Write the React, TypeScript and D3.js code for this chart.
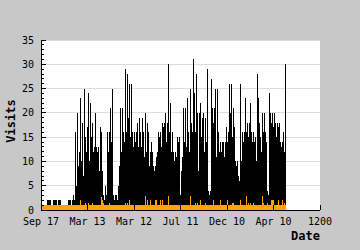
import React from "react";
import * as d3 from "d3";

// Visits per bar (each bar = one bucket of days, from the first bucket onwards)
const visits: number[] = [
  0, 0, 0, 0, 0, 0, 2, 2, 2, 2,
  0, 0, 2, 2, 2, 2, 0, 2, 2, 2,
  0, 0, 0, 0, 0, 0, 1, 2, 2, 2,
  1, 2, 3, 2, 16, 5, 20, 9, 12,
  23, 10, 18, 7, 25, 15, 12, 17, 24, 10,
  22, 15, 18, 12, 13, 20, 13, 12, 13, 8,
  17, 16, 8, 3, 2, 5, 3, 16, 12, 16,
  21, 14, 25, 3, 2, 3, 3, 2, 5, 9,
  21, 12, 21, 16, 14, 29, 16, 28, 19, 26,
  15, 26, 16, 13, 16, 14, 16, 18, 13, 19,
  16, 13, 19, 16, 11, 20, 12, 18, 16, 9,
  12, 14, 12, 9, 8, 9, 11, 12, 16, 15,
  16, 13, 18, 17, 18, 20, 14, 18, 30, 16,
  22, 12, 16, 12, 10, 12, 11, 15, 14, 15,
  3, 8, 11, 21, 14, 21, 13, 23, 16, 12,
  25, 18, 16, 31, 24, 16, 28, 20, 8, 20,
  22, 15, 19, 20, 12, 19, 14, 29, 4, 3,
  4, 27, 21, 18, 21, 25, 11, 25, 16, 12,
  14, 12, 14, 14, 11, 14, 17, 14, 16, 26,
  20, 26, 15, 21, 17, 10, 9, 10, 7, 6,
  26, 10, 16, 14, 16, 23, 16, 18, 15, 18,
  22, 16, 14, 16, 14, 15, 10, 28, 23, 18,
  15, 12, 20, 16, 20, 16, 14, 4, 3, 24,
  20, 18, 20, 17, 20, 18, 15, 18, 17, 18,
  14, 13, 14, 16, 12, 30,
];

// Second series (orange), same buckets
const uniques: number[] = [
  1, 1, 1, 1, 1, 1, 1, 1, 1, 1,
  1, 1, 1, 1, 1, 1, 1, 1, 1, 1,
  1, 1, 1, 1, 1, 1, 1, 1, 1, 1,
  1, 1, 1, 1, 1, 1, 1, 1, 1, 2,
  1, 1, 1, 1, 1.5, 1, 1, 1.5, 1, 1,
  1, 1.5, 1, 1, 1, 1, 1, 1, 1, 1,
  2.7, 2, 1.5, 1, 1, 1, 1, 1, 1.5, 1,
  1, 1, 1, 1, 1, 1, 1, 1, 1, 1,
  1, 1, 1, 1, 1.5, 1, 1.5, 1, 2, 1,
  1, 1, 1, 1, 1, 1, 1, 1, 1, 1,
  1, 1, 1, 1, 2.9, 1, 2, 1, 1, 2,
  1, 1, 1, 1, 2, 2, 1, 1, 1, 2,
  1, 2, 1, 1, 1, 1, 1, 2.9, 1, 1,
  1, 1, 1, 1, 1, 1, 1, 1, 1, 1,
  1, 1, 1, 1, 1, 1, 1, 1, 1, 2.9,
  1, 1, 1, 1, 1.5, 1, 1.5, 1, 1, 2,
  1, 1, 1, 1, 1.5, 1, 1, 1, 1, 1,
  1, 1, 2, 1, 1, 1, 1, 1, 1, 2,
  1, 1, 1, 1, 1, 1, 2, 1, 1, 1,
  1, 1.5, 1.5, 1, 1, 1, 1, 1, 1, 2,
  1, 1, 1, 1, 1, 2.8, 1, 1.5, 1, 1.5,
  1, 1, 1.5, 1, 1, 1, 1, 1, 1, 1,
  1, 2.8, 1.5, 1, 1, 1, 1.5, 1, 1, 1,
  2, 2, 2, 1, 1, 1, 1, 2, 1, 1,
  1, 2, 1, 1.5, 1,
];

const DAYS_PER_BAR = 4.3;
const xTickValues: number[] = [0, 200, 400, 600, 800, 1000, 1200];
const xTickLabels: string[] = ["Sep 17", "Mar 13", "Mar 12", "Jul 11", "Dec 10", "Apr 10", "1200"];
const yTickValues: number[] = [0, 5, 10, 15, 20, 25, 30, 35];

const W = 360;
const H = 250;
const M = { left: 41, right: 40, top: 40, bottom: 40 };
const FONT = "'DejaVu Sans Mono', monospace";

export default function App() {
  const x = d3.scaleLinear().domain([0, 1200]).range([M.left, W - M.right]);
  const y = d3.scaleLinear().domain([0, 35]).range([H - M.bottom, M.top]);
  const barW = x(DAYS_PER_BAR) - x(0) + 0.2;
  const minorTicks = d3.range(0, 36, 1).filter((v) => v % 5 !== 0);

  return (
    <svg
      width={W}
      height={H}
      style={{ position: "absolute", left: 0, top: 0, display: "block" }}
      fontFamily={FONT}
    >
      <rect x={0} y={0} width={W} height={H} fill="#c8c8c8" />
      <rect
        x={x(0)}
        y={y(35)}
        width={x(1200) - x(0)}
        height={y(0) - y(35)}
        fill="#ffffff"
      />
      {yTickValues.map((v) => (
        <line
          key={"g" + v}
          x1={x(0)}
          x2={x(1200)}
          y1={y(v)}
          y2={y(v)}
          stroke="#dcdcdc"
          strokeWidth={1}
          shapeRendering="crispEdges"
        />
      ))}
      <g shapeRendering="crispEdges">
        {visits.map((v, i) =>
          v > 0 ? (
            <rect
              key={"v" + i}
              x={x(i * DAYS_PER_BAR)}
              y={y(v)}
              width={barW}
              height={y(0) - y(v)}
              fill="#000000"
            />
          ) : null
        )}
        {uniques.map((v, i) => (
          <rect
            key={"u" + i}
            x={x(i * DAYS_PER_BAR)}
            y={y(v)}
            width={barW}
            height={y(0) - y(v)}
            fill="#ffa500"
          />
        ))}
      </g>
      {/* axes */}
      <g stroke="#000" strokeWidth={1} shapeRendering="crispEdges">
        <line x1={x(0)} x2={x(0)} y1={y(35)} y2={y(0)} />
        <line x1={x(0)} x2={x(1200)} y1={y(0)} y2={y(0)} />
        {yTickValues.map((v) => (
          <line key={"yt" + v} x1={x(0)} x2={x(0) + 5} y1={y(v)} y2={y(v)} />
        ))}
        {minorTicks.map((v) => (
          <line key={"ym" + v} x1={x(0)} x2={x(0) + 3} y1={y(v)} y2={y(v)} />
        ))}
        {xTickValues.map((v) => (
          <line key={"xt" + v} x1={x(v)} x2={x(v)} y1={y(0)} y2={y(0) - 5} />
        ))}
      </g>
      {yTickValues.map((v) => (
        <text
          key={"yl" + v}
          x={x(0) - 7}
          y={y(v)}
          dy="0.36em"
          textAnchor="end"
          fontSize={10}
          fill="#000"
        >
          {v}
        </text>
      ))}
      {xTickValues.map((v, i) => (
        <text
          key={"xl" + v}
          x={x(v)}
          y={y(0) + 15}
          textAnchor="middle"
          fontSize={10}
          fill="#000"
        >
          {xTickLabels[i]}
        </text>
      ))}
      <text
        x={x(1200)}
        y={240}
        textAnchor="end"
        fontSize={12}
        fontWeight="bold"
        fill="#000"
      >
        Date
      </text>
      <text
        transform="translate(15,121) rotate(-90)"
        textAnchor="middle"
        fontSize={12}
        fontWeight="bold"
        fill="#000"
      >
        Visits
      </text>
    </svg>
  );
}
